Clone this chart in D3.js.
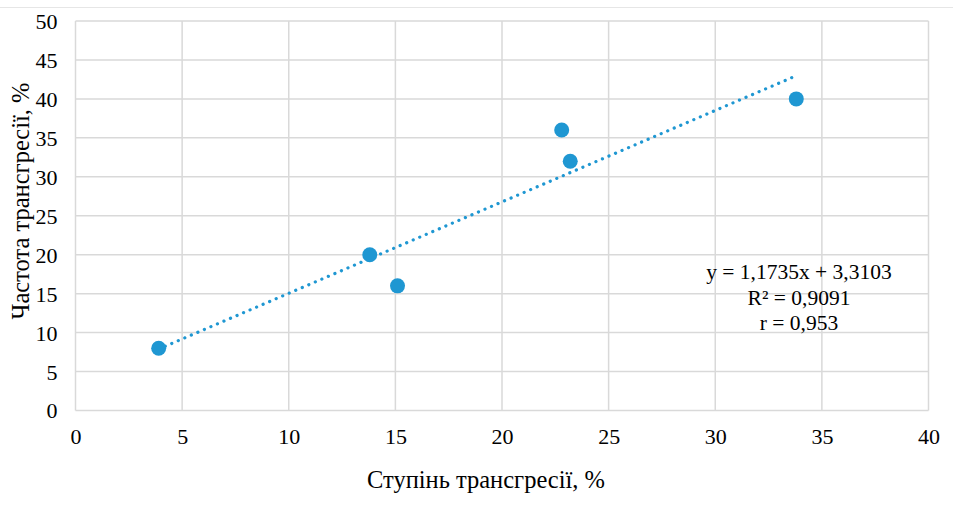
<!DOCTYPE html>
<html><head><meta charset="utf-8">
<script src="https://cdn.jsdelivr.net/npm/d3@7"></script>
<style>body{margin:0;background:#fff}svg{display:block}text{font-family:"Liberation Serif","Times New Roman",serif}</style>
</head><body>
<svg id="c" width="953" height="510"></svg>
<script>
const xValues = [3.9, 13.8, 15.1, 22.8, 23.2, 33.8];
const yValues = [8, 20, 16, 36, 32, 40];
const xTicks = [0, 5, 10, 15, 20, 25, 30, 35, 40];
const yTicks = [0, 5, 10, 15, 20, 25, 30, 35, 40, 45, 50];
const slope = 1.1735, intercept = 3.3103;
const eqLines = ["y = 1,1735x + 3,3103", "R² = 0,9091", "r = 0,953"];
const xTitle = "Ступінь трансгресії, %";
const yTitle = "Частота трансгресії, %";

const svg = d3.select("#c");
const font = "Liberation Serif";
const m = {l: 75.5, r: 928.5, t: 21, b: 410.5};
const x = d3.scaleLinear().domain([0, 40]).range([m.l, m.r]);
const y = d3.scaleLinear().domain([0, 50]).range([m.b, m.t]);
const color = "#1f97d2";

svg.append("line").attr("x1", 0).attr("x2", 953).attr("y1", 7.5).attr("y2", 7.5)
  .attr("stroke", "#e6e6e6").attr("stroke-width", 1);

const g = svg.append("g");
g.selectAll(".gx").data(xTicks).join("line")
  .attr("x1", d => x(d)).attr("x2", d => x(d)).attr("y1", m.t).attr("y2", m.b)
  .attr("stroke", "#d9d9d9").attr("stroke-width", 1.5);
g.selectAll(".gy").data(yTicks).join("line")
  .attr("x1", m.l).attr("x2", m.r).attr("y1", d => y(d)).attr("y2", d => y(d))
  .attr("stroke", "#d9d9d9").attr("stroke-width", 1.5);

const xAxis = d3.axisBottom(x).tickValues(xTicks).tickSize(0).tickPadding(12).tickFormat(d3.format("d"));
const yAxis = d3.axisLeft(y).tickValues(yTicks).tickSize(0).tickPadding(18).tickFormat(d3.format("d"));
const ax = svg.append("g").attr("transform", `translate(0,${m.b})`).call(xAxis);
const ay = svg.append("g").attr("transform", `translate(${m.l},0)`).call(yAxis);
[ax, ay].forEach(a => {
  a.attr("font-family", font).attr("font-size", 22);
  a.select(".domain").remove();
  a.selectAll("text").attr("font-family", font).attr("font-size", 22).attr("fill", "#000");
});
ax.selectAll("text").attr("y", 33.5).attr("dy", 0);
ay.selectAll("text").attr("dy", "0.34em");

const x0 = d3.min(xValues), x1 = d3.max(xValues);
svg.append("line")
  .attr("x1", x(x0)).attr("y1", y(slope * x0 + intercept))
  .attr("x2", x(x1)).attr("y2", y(slope * x1 + intercept))
  .attr("stroke", color).attr("stroke-width", 3.2)
  .attr("stroke-linecap", "round").attr("stroke-dasharray", "0.1 7");

svg.selectAll(".pt").data(xValues).join("circle")
  .attr("cx", d => x(d)).attr("cy", (d, i) => y(yValues[i])).attr("r", 7.5)
  .attr("fill", color);

const eq = svg.append("g");
eqLines.forEach((t, i) => {
  eq.append("text").attr("x", 799).attr("y", 279 + i * 25.5)
    .attr("text-anchor", "middle").attr("font-family", font).attr("font-size", 21.5)
    .attr("fill", "#000").text(t);
});

svg.append("text").attr("x", 486).attr("y", 488)
  .attr("text-anchor", "middle").attr("font-family", font).attr("font-size", 24.5)
  .attr("fill", "#000").text(xTitle);
svg.append("text").attr("transform", `translate(29,201) rotate(-90)`)
  .attr("text-anchor", "middle").attr("font-family", font).attr("font-size", 24.5)
  .attr("fill", "#000").text(yTitle);
</script>
</body></html>
